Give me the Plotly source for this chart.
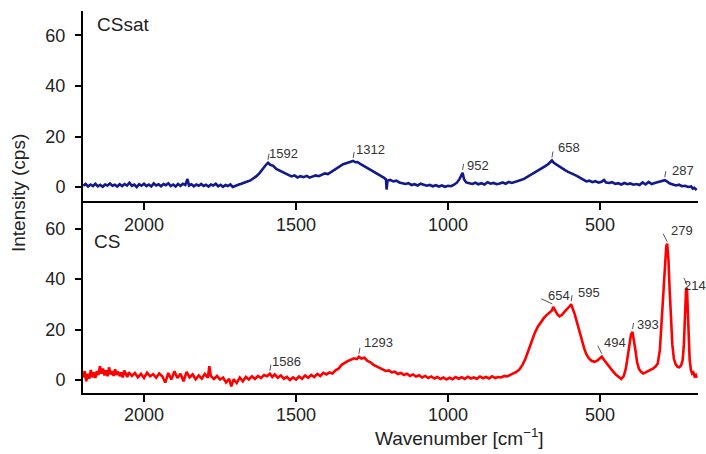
import plotly.graph_objects as go

# Raman spectrum of CSsat: (wavenumber cm^-1, intensity cps)
cssat_points = [
    (2200, 0.5), (2192, 1.2), (2184, 0.2), (2176, 1.0), (2168, 0.4), (2160, 1.3), (2152, 0.3),
    (2144, 0.9), (2136, 0.1), (2128, 1.0), (2120, 0.6), (2112, 1.4), (2104, 0.5), (2096, 0.9),
    (2088, 0.2), (2080, 1.1), (2072, 0.4), (2064, 1.2), (2056, 0.6), (2048, 1.7), (2040, 0.5),
    (2032, 1.0), (2024, 0.0), (2016, 1.1), (2008, 0.5), (2000, 1.3), (1992, 0.4), (1984, 1.0),
    (1976, 0.2), (1968, 1.4), (1960, 0.6), (1952, 1.1), (1944, 0.3), (1936, 1.2), (1928, 0.7),
    (1920, 1.5), (1912, 0.4), (1904, 1.0), (1896, 0.2), (1888, 1.2), (1880, 0.5), (1872, 1.3),
    (1864, 0.8), (1857, 3.2), (1852, 0.6), (1844, 1.1), (1836, 0.3), (1828, 1.0), (1820, 0.5),
    (1812, 1.2), (1804, 0.4), (1796, 0.9), (1788, 0.2), (1780, 1.0), (1772, 0.6), (1764, 1.3),
    (1756, 0.3), (1748, 0.9), (1740, 0.1), (1732, 0.8), (1724, 0.4), (1716, 1.0), (1708, 0.0),
    (1700, 0.5), (1690, 0.9), (1680, 1.3), (1670, 1.6), (1660, 2.2), (1650, 2.6), (1640, 3.3),
    (1630, 4.3), (1620, 5.5), (1612, 7.0), (1605, 7.8), (1598, 8.9), (1592, 9.6), (1585, 8.8),
    (1575, 8.4), (1565, 7.2), (1555, 6.6), (1545, 5.8), (1535, 5.2), (1525, 4.8), (1515, 4.2),
    (1505, 4.6), (1495, 3.8), (1485, 4.3), (1475, 3.9), (1465, 4.4), (1455, 3.7), (1445, 4.2),
    (1435, 4.6), (1425, 4.3), (1415, 5.0), (1405, 5.4), (1395, 5.1), (1385, 5.9), (1375, 6.6),
    (1365, 7.5), (1355, 8.3), (1345, 9.0), (1335, 9.4), (1325, 9.8), (1318, 10.0), (1312, 10.3),
    (1305, 9.8), (1298, 9.9), (1290, 9.3), (1280, 8.6), (1270, 8.0), (1260, 7.2), (1250, 6.5),
    (1240, 5.9), (1230, 5.0), (1220, 4.2), (1210, 3.6), (1204, 3.0), (1202, -1.0), (1199, 2.5),
    (1190, 2.8), (1180, 2.2), (1170, 2.5), (1160, 1.8), (1150, 1.6), (1140, 1.2), (1130, 1.5),
    (1120, 0.8), (1110, 1.1), (1100, 0.6), (1090, 1.3), (1080, 0.9), (1070, 0.5), (1060, 0.8),
    (1050, 0.3), (1040, 0.7), (1030, 0.2), (1020, 0.6), (1010, 0.1), (1000, 0.5), (990, 0.3),
    (980, 0.9), (970, 1.8), (962, 3.2), (957, 4.2), (952, 5.6), (947, 3.0), (940, 1.8),
    (930, 1.5), (920, 1.2), (910, 1.7), (900, 1.1), (890, 1.5), (880, 1.0), (870, 1.9),
    (860, 1.3), (850, 1.6), (840, 1.1), (830, 1.4), (820, 1.8), (810, 1.3), (800, 2.0),
    (790, 1.6), (780, 2.1), (770, 2.5), (760, 2.8), (750, 3.2), (740, 3.9), (730, 4.6),
    (720, 5.2), (710, 6.0), (700, 6.6), (690, 7.4), (680, 8.3), (670, 9.1), (663, 9.9),
    (658, 10.5), (652, 9.6), (645, 9.0), (635, 8.2), (625, 7.3), (615, 6.7), (605, 6.0),
    (595, 5.6), (585, 4.9), (575, 4.3), (565, 3.5), (555, 3.0), (545, 2.2), (535, 2.5),
    (525, 1.9), (515, 2.3), (505, 1.7), (495, 2.1), (487, 2.8), (480, 1.8), (470, 1.6),
    (460, 1.9), (450, 1.2), (440, 1.5), (430, 1.0), (420, 1.6), (410, 1.1), (400, 1.4),
    (390, 0.9), (380, 1.2), (370, 0.8), (360, 1.8), (350, 1.0), (340, 2.0), (330, 1.2),
    (320, 1.6), (310, 1.9), (300, 2.2), (293, 2.5), (287, 2.7), (280, 2.2), (270, 1.4),
    (260, 1.0), (250, 0.6), (240, 0.9), (230, 0.3), (220, 0.5), (210, 0.0), (200, 0.2),
    (195, -0.6), (190, -0.3), (185, -1.0), (182, -1.2),
]

# Raman spectrum of CS: (wavenumber cm^-1, intensity cps)
cs_points = [
    (2200, 1.0), (2195, 3.5), (2190, -0.5), (2185, 2.5), (2180, 0.5), (2175, 4.0), (2170, 1.0),
    (2165, 3.0), (2160, 0.8), (2155, 3.6), (2150, 2.0), (2145, 5.5), (2140, 2.5), (2135, 4.5),
    (2130, 1.8), (2125, 3.8), (2120, 1.5), (2115, 5.0), (2110, 2.2), (2105, 3.5), (2100, 1.6),
    (2095, 4.2), (2090, 2.0), (2085, 3.3), (2080, 1.5), (2075, 3.0), (2070, 1.0), (2065, 3.8),
    (2060, 2.4), (2055, 1.2), (2050, 3.0), (2040, 1.6), (2030, 2.8), (2020, 1.0), (2010, 2.4),
    (2000, 0.8), (1990, 2.9), (1980, 1.5), (1970, 2.3), (1960, 0.9), (1950, 2.6), (1940, 1.5),
    (1930, -1.0), (1920, 2.8), (1910, 0.2), (1900, 3.5), (1890, 0.8), (1880, 2.5), (1870, -0.5),
    (1860, 3.2), (1850, 1.0), (1840, 2.2), (1830, 0.3), (1820, 1.8), (1810, 0.5), (1800, 2.4),
    (1790, 0.9), (1785, 5.5), (1780, 1.5), (1770, 0.4), (1760, 1.6), (1750, 0.2), (1740, 1.0),
    (1730, -1.0), (1720, 0.5), (1713, -2.5), (1705, 0.3), (1695, -1.2), (1685, 1.0), (1675, -0.5),
    (1665, 1.2), (1655, 0.2), (1645, 1.5), (1635, 0.4), (1625, 1.6), (1615, 0.8), (1605, 2.0),
    (1595, 1.5), (1586, 2.5), (1578, 1.2), (1570, 2.2), (1560, 0.9), (1550, 1.8), (1540, 0.5),
    (1530, 1.2), (1520, 0.0), (1510, 1.0), (1500, 0.2), (1490, 1.4), (1480, 0.5), (1470, 1.8),
    (1460, 0.9), (1450, 2.0), (1440, 1.2), (1430, 2.4), (1420, 1.6), (1410, 2.8), (1400, 2.2),
    (1390, 3.0), (1380, 2.6), (1370, 3.8), (1360, 4.5), (1350, 6.0), (1340, 6.8), (1330, 7.5),
    (1320, 8.0), (1310, 8.6), (1300, 8.3), (1293, 9.2), (1285, 8.5), (1275, 8.8), (1265, 7.6),
    (1255, 7.0), (1245, 6.0), (1235, 5.4), (1225, 4.6), (1215, 4.0), (1205, 3.6), (1195, 3.8),
    (1185, 3.0), (1175, 3.3), (1165, 2.4), (1155, 2.8), (1145, 2.0), (1135, 2.5), (1125, 1.6),
    (1115, 2.2), (1105, 1.4), (1095, 1.9), (1085, 1.0), (1075, 1.6), (1065, 0.8), (1055, 1.4),
    (1045, 0.6), (1035, 1.2), (1025, 0.4), (1015, 1.0), (1005, 0.2), (995, 0.9), (985, 0.3),
    (975, 1.2), (965, 0.5), (955, 1.1), (945, 0.4), (935, 1.3), (925, 0.6), (915, 1.0),
    (905, 0.5), (895, 1.4), (885, 0.7), (875, 1.2), (865, 0.6), (855, 1.5), (845, 0.8),
    (835, 1.2), (825, 1.0), (815, 1.6), (805, 1.4), (795, 2.0), (785, 2.6), (775, 3.2),
    (765, 4.2), (755, 6.0), (745, 8.5), (735, 12.0), (725, 15.5), (715, 18.5), (705, 21.0),
    (695, 23.0), (685, 24.5), (675, 25.8), (665, 27.0), (658, 27.5), (654, 29.0), (647, 27.2),
    (640, 26.0), (633, 25.2), (625, 25.8), (617, 27.0), (608, 28.0), (600, 29.2), (595, 30.0),
    (590, 28.5), (583, 26.0), (575, 22.5), (567, 19.0), (560, 15.5), (552, 12.5), (545, 10.2),
    (537, 8.6), (528, 7.6), (518, 7.2), (508, 7.8), (500, 8.4), (494, 9.2), (487, 8.0),
    (478, 6.5), (468, 5.0), (458, 3.5), (448, 2.2), (438, 1.0), (430, 0.4), (422, 1.5),
    (415, 4.5), (408, 10.0), (402, 15.5), (398, 18.0), (393, 19.0), (388, 16.0), (383, 11.5),
    (378, 7.0), (372, 4.5), (365, 3.2), (358, 2.6), (350, 3.0), (342, 3.4), (334, 3.8),
    (326, 4.5), (318, 5.2), (310, 6.5), (303, 12.0), (297, 24.0), (291, 38.0), (286, 48.0),
    (282, 53.0), (279, 54.0), (275, 48.0), (271, 36.0), (267, 24.0), (262, 14.0), (257, 8.5),
    (251, 6.2), (245, 5.2), (239, 5.0), (233, 5.8), (228, 8.0), (224, 14.0), (220, 27.0),
    (217, 35.5), (214, 36.5), (211, 28.0), (208, 16.0), (205, 8.0), (201, 4.0), (197, 2.6),
    (193, 3.0), (189, 1.5), (185, 2.0), (182, 0.8),
]

cssat_peaks = [1592, 1312, 952, 658, 287]
cs_peaks = [1586, 1293, 654, 595, 494, 393, 279, 214]

x_ticks = [2000, 1500, 1000, 500]
y_ticks = [0, 20, 40, 60]

# label offsets from each peak in pixels (dx, dy)
cssat_label_shift = {1592: (15, 9), 1312: (17, 11), 952: (15, 7), 658: (17, 13), 287: (18, 10)}
cs_label_shift = {1586: (17, 12), 1293: (20, 14), 654: (6, 11), 595: (18, 12),
                  494: (13, 14), 393: (15, 8), 279: (15, 13), 214: (8, 2)}

# leader marks above peaks, pixel offsets (x0, y0, x1, y1); default is a short upright tick
leader_default = (0, 3, 1, 9)
cs_leaders = {654: (-12, 8, -1, 3), 279: (-4, 10, 0, 2), 494: (-4, 11, 0, 3), 214: (-3, 10, 0, 3)}

NAVY = "#12198c"
RED = "#ff0000"
FONT = "Liberation Sans, Arial, sans-serif"

cssat_wn = [p[0] for p in cssat_points]
cssat_int = [p[1] for p in cssat_points]
cs_wn = [p[0] for p in cs_points]
cs_int = [p[1] for p in cs_points]

fig = go.Figure()
fig.add_trace(go.Scatter(x=cssat_wn, y=cssat_int, mode="lines",
                         line=dict(color=NAVY, width=2.6), xaxis="x", yaxis="y",
                         showlegend=False))
fig.add_trace(go.Scatter(x=cs_wn, y=cs_int, mode="lines",
                         line=dict(color=RED, width=2.6), xaxis="x2", yaxis="y2",
                         showlegend=False))

x_range = [2200.7, 177.6]
axis_common = dict(showline=True, linecolor="black", linewidth=2, ticks="outside",
                   tickcolor="black", tickwidth=2, showgrid=False, zeroline=False,
                   tickfont=dict(family=FONT, size=18, color="#222"))

fig.update_layout(
    width=706, height=454,
    margin=dict(l=0, r=0, t=0, b=0),
    paper_bgcolor="white", plot_bgcolor="white",
    xaxis=dict(domain=[83 / 706, 698 / 706], range=x_range, anchor="y",
               tickvals=x_ticks, ticklen=7, ticklabelstandoff=-1, **axis_common),
    yaxis=dict(domain=[(454 - 201) / 454, (454 - 11) / 454], range=[-5.54, 69.7],
               anchor="x", tickvals=y_ticks, ticklen=6, ticklabelstandoff=6, **axis_common),
    xaxis2=dict(domain=[83 / 706, 698 / 706], range=x_range, anchor="y2",
                tickvals=x_ticks, ticklen=7, ticklabelstandoff=-3, **axis_common),
    yaxis2=dict(domain=[(454 - 393) / 454, (454 - 201) / 454], range=[-5.15, 70.9],
                anchor="x2", tickvals=y_ticks, ticklen=6, ticklabelstandoff=6, **axis_common),
)

annotations = []
shapes = []


def add_peak_labels(peaks, wn, inten, shifts, leaders, xref, yref):
    lookup = dict(zip(wn, inten))
    for pk in peaks:
        y = lookup[pk]
        dx, dy = shifts[pk]
        annotations.append(dict(x=pk, y=y, xref=xref, yref=yref, text=str(pk),
                                showarrow=False, xshift=dx, yshift=dy,
                                font=dict(family=FONT, size=13, color="#333")))
        x0, y0, x1, y1 = leaders.get(pk, leader_default)
        shapes.append(dict(type="line", xref=xref, yref=yref,
                           xsizemode="pixel", ysizemode="pixel",
                           xanchor=pk, yanchor=y, x0=x0, x1=x1, y0=y0, y1=y1,
                           line=dict(color="#555", width=1)))


add_peak_labels(cssat_peaks, cssat_wn, cssat_int, cssat_label_shift, {}, "x", "y")
add_peak_labels(cs_peaks, cs_wn, cs_int, cs_label_shift, cs_leaders, "x2", "y2")

# panel names
annotations.append(dict(x=95 / 706, y=(454 - 25) / 454, xref="paper", yref="paper",
                        text="CSsat", showarrow=False, xanchor="left", yanchor="middle",
                        font=dict(family=FONT, size=19, color="#222")))
annotations.append(dict(x=92 / 706, y=(454 - 242) / 454, xref="paper", yref="paper",
                        text="CS", showarrow=False, xanchor="left", yanchor="middle",
                        font=dict(family=FONT, size=19, color="#222")))

# axis titles
annotations.append(dict(x=18 / 706, y=(454 - 193) / 454, xref="paper", yref="paper",
                        text="Intensity (cps)", showarrow=False, textangle=-90,
                        xanchor="center", yanchor="middle",
                        font=dict(family=FONT, size=19, color="#222")))
annotations.append(dict(x=459 / 706, y=(454 - 437) / 454, xref="paper", yref="paper",
                        text="Wavenumber [cm<sup>\u22121</sup>]", showarrow=False,
                        xanchor="center", yanchor="middle",
                        font=dict(family=FONT, size=19, color="#222")))

fig.update_layout(annotations=annotations, shapes=shapes)
fig.write_html("out.html")
